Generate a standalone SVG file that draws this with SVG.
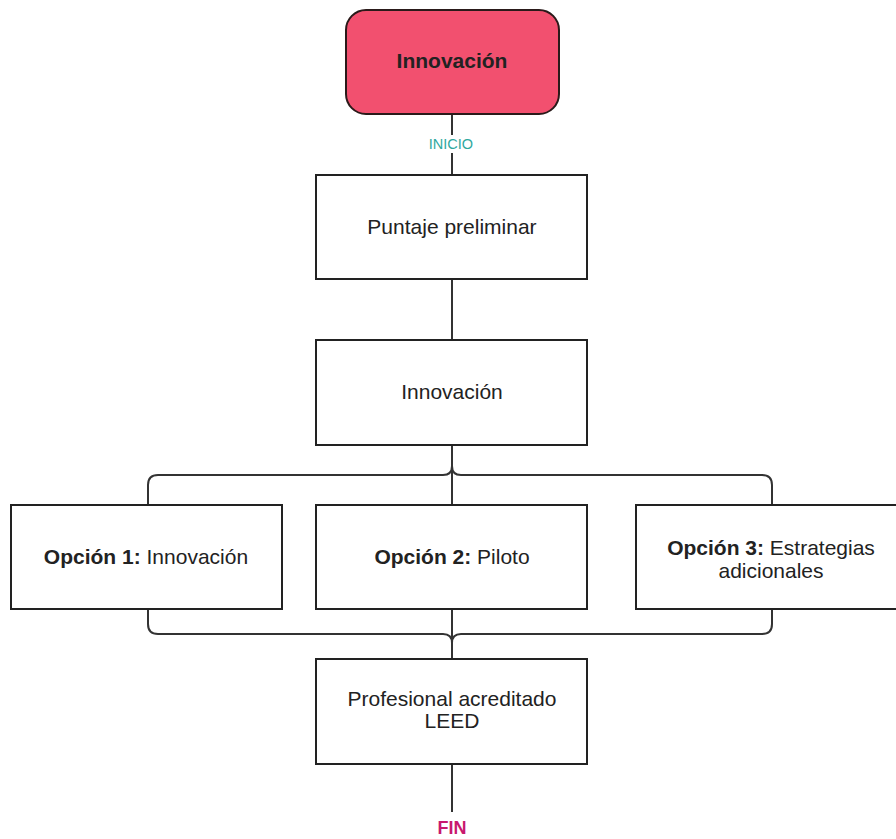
<svg xmlns="http://www.w3.org/2000/svg" width="896" height="839" viewBox="0 0 896 839">
<style>
.box{fill:#fff;stroke:#222;stroke-width:2}
.t{font-family:"Liberation Sans",Arial,sans-serif;font-size:21px;fill:#222;text-anchor:middle}
.b{font-weight:bold}
.c{fill:none;stroke:#333;stroke-width:2}
</style>
<rect width="896" height="839" fill="#fff"/>
<g id="connectors">
<path class="c" d="M452 114 V135 M452 153 V175"/>
<path class="c" d="M452 279 V340"/>
<path class="c" d="M452 445 V505"/>
<path class="c" d="M148 505 V485 Q148 475 158 475 H443 Q452 475 452 466 Q452 475 461 475 H762 Q772 475 772 485 V505"/>
<path class="c" d="M452 609 V659"/>
<path class="c" d="M148 609 V624 Q148 634 158 634 H443 Q452 634 452 643 Q452 634 461 634 H762 Q772 634 772 624 V609"/>
<path class="c" d="M452 764 V812"/>
</g>
<g id="start">
<rect x="346" y="10" width="213" height="104" rx="20" fill="#f2506f" stroke="#2a1a1a" stroke-width="2"/>
<text class="t b" x="452" y="68" font-size="22">Innovación</text>
</g>
<text x="451" y="149" font-family="'Liberation Sans',Arial,sans-serif" font-size="14.5" fill="#2fa89e" text-anchor="middle">INICIO</text>
<g id="puntaje">
<rect class="box" x="316" y="175" width="271" height="104"/>
<text class="t" x="452" y="234">Puntaje preliminar</text>
</g>
<g id="innovacion">
<rect class="box" x="316" y="340" width="271" height="105"/>
<text class="t" x="452" y="399">Innovación</text>
</g>
<g id="opcion1">
<rect class="box" x="11" y="505" width="271" height="104"/>
<text class="t" x="146" y="564"><tspan class="b">Opción 1:</tspan> Innovación</text>
</g>
<g id="opcion2">
<rect class="box" x="316" y="505" width="271" height="104"/>
<text class="t" x="452" y="564"><tspan class="b">Opción 2:</tspan> Piloto</text>
</g>
<g id="opcion3">
<rect class="box" x="636" y="505" width="272" height="104"/>
<text class="t" x="771" y="555"><tspan class="b">Opción 3:</tspan> Estrategias</text>
<text class="t" x="771" y="578">adicionales</text>
</g>
<g id="profesional">
<rect class="box" x="316" y="659" width="271" height="105"/>
<text class="t" x="452" y="706">Profesional acreditado</text>
<text class="t" x="452" y="728">LEED</text>
</g>
<text x="452" y="834" font-family="'Liberation Sans',Arial,sans-serif" font-size="18" font-weight="bold" fill="#c8186e" text-anchor="middle">FIN</text>
</svg>
